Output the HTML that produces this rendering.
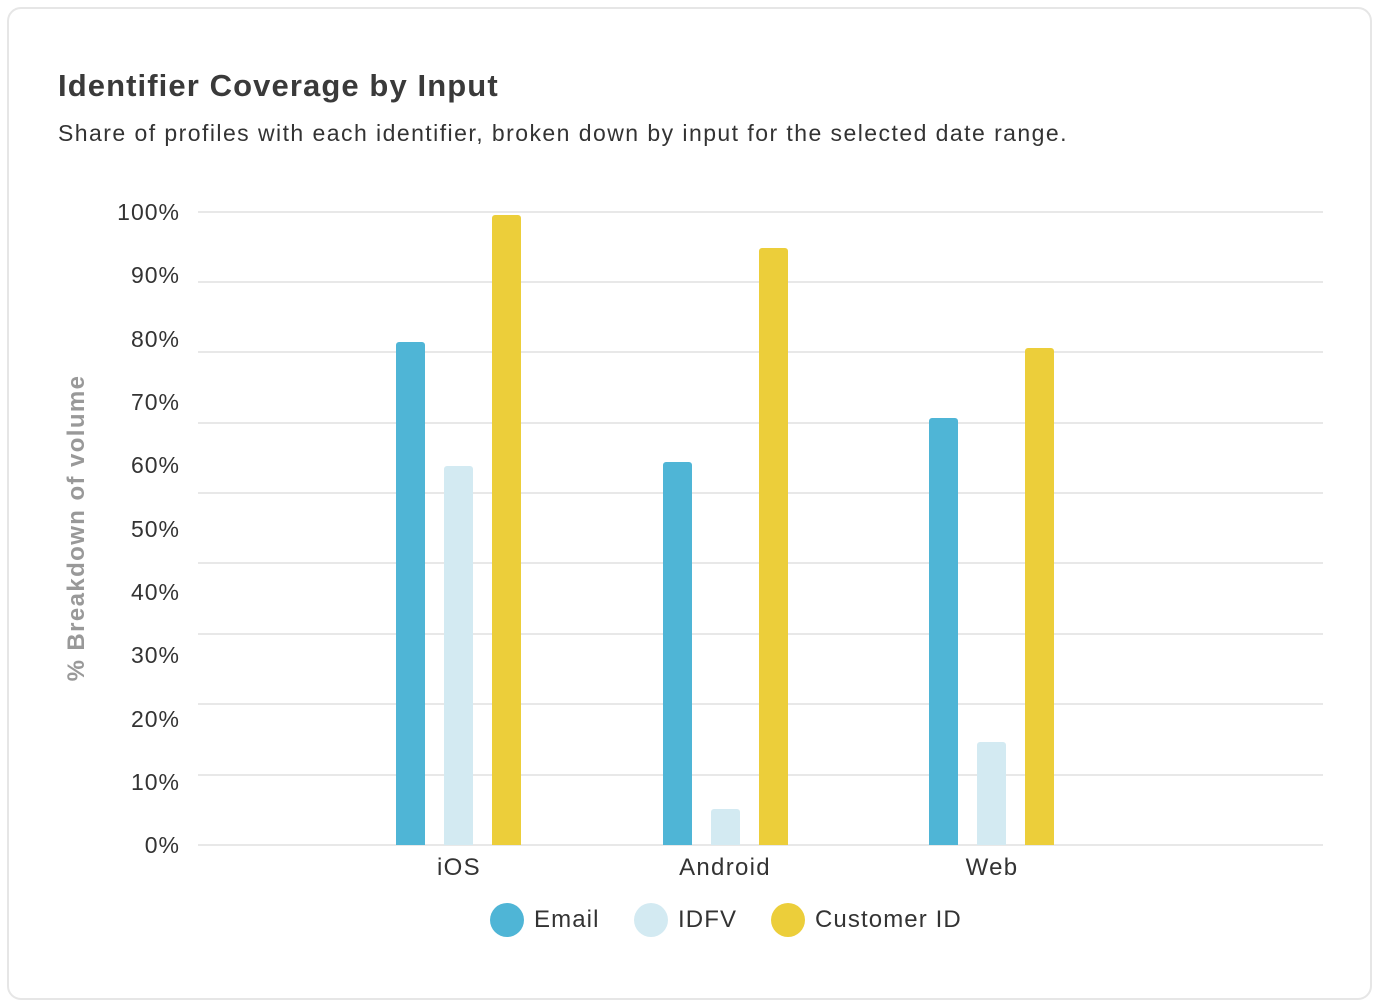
<!DOCTYPE html>
<html><head><meta charset="utf-8"><style>
html,body{margin:0;padding:0;background:#fff;}
body{width:1382px;height:1006px;position:relative;font-family:"Liberation Sans",sans-serif;overflow:hidden;}
.card{position:absolute;left:7px;top:7px;width:1365px;height:993px;border:2px solid #e6e6e6;border-radius:14px;box-sizing:border-box;}
.t{position:absolute;white-space:nowrap;color:#333;}
.g{position:absolute;left:198px;width:1125px;height:2px;background:#e8e8e8;}
.b{position:absolute;width:29px;border-radius:3px 3px 0 0;}
.yl{position:absolute;right:1202px;font-size:23px;color:#333;line-height:1;letter-spacing:1px;}
.dot{position:absolute;width:34px;height:34px;border-radius:50%;top:903px;}
.cat{font-size:24px;letter-spacing:1.3px;}
.lg{font-size:24px;letter-spacing:1.1px;top:906px;}
</style></head><body>
<div class="card"></div>
<div class="t" style="left:58px;top:68px;font-size:31px;font-weight:bold;color:#3a3a3a;letter-spacing:1.1px;">Identifier Coverage by Input</div>
<div class="t" style="left:58px;top:120px;font-size:23px;letter-spacing:1.45px;">Share of profiles with each identifier, broken down by input for the selected date range.</div>

<div class="g" style="top:211px"></div>
<div class="g" style="top:281px"></div>
<div class="g" style="top:351px"></div>
<div class="g" style="top:422px"></div>
<div class="g" style="top:492px"></div>
<div class="g" style="top:562px"></div>
<div class="g" style="top:633px"></div>
<div class="g" style="top:703px"></div>
<div class="g" style="top:774px"></div>
<div class="g" style="top:844px"></div>

<div class="yl" style="top:201px">100%</div>
<div class="yl" style="top:264px">90%</div>
<div class="yl" style="top:328px">80%</div>
<div class="yl" style="top:391px">70%</div>
<div class="yl" style="top:454px">60%</div>
<div class="yl" style="top:518px">50%</div>
<div class="yl" style="top:581px">40%</div>
<div class="yl" style="top:644px">30%</div>
<div class="yl" style="top:708px">20%</div>
<div class="yl" style="top:771px">10%</div>
<div class="yl" style="top:834px">0%</div>

<div class="t" style="left:77px;top:528px;font-size:24px;font-weight:bold;color:#999;letter-spacing:1.4px;transform:translate(-50%,-50%) rotate(-90deg);">% Breakdown of volume</div>

<div class="b" style="left:396px;top:342px;height:503px;background:#4fb5d6"></div>
<div class="b" style="left:444px;top:466px;height:379px;background:#d3eaf2"></div>
<div class="b" style="left:492px;top:215px;height:630px;background:#ecce3a"></div>
<div class="b" style="left:663px;top:462px;height:383px;background:#4fb5d6"></div>
<div class="b" style="left:711px;top:809px;height:36px;background:#d3eaf2"></div>
<div class="b" style="left:759px;top:248px;height:597px;background:#ecce3a"></div>
<div class="b" style="left:929px;top:418px;height:427px;background:#4fb5d6"></div>
<div class="b" style="left:977px;top:742px;height:103px;background:#d3eaf2"></div>
<div class="b" style="left:1025px;top:348px;height:497px;background:#ecce3a"></div>

<div class="t cat" style="left:459px;top:854px;transform:translateX(-50%)">iOS</div>
<div class="t cat" style="left:725px;top:854px;transform:translateX(-50%)">Android</div>
<div class="t cat" style="left:992px;top:854px;transform:translateX(-50%)">Web</div>

<div class="dot" style="left:490px;background:#4fb5d6"></div>
<div class="t lg" style="left:534px;">Email</div>
<div class="dot" style="left:634px;background:#d3eaf2"></div>
<div class="t lg" style="left:678px;">IDFV</div>
<div class="dot" style="left:771px;background:#ecce3a"></div>
<div class="t lg" style="left:815px;">Customer ID</div>
</body></html>
